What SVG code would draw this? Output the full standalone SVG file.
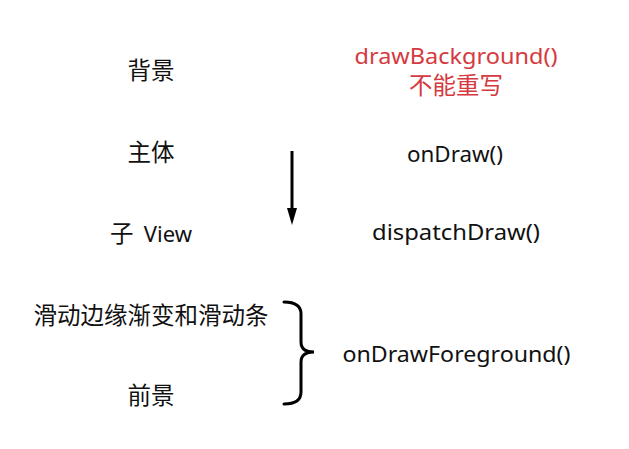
<svg xmlns="http://www.w3.org/2000/svg" width="629" height="449" viewBox="0 0 629 449">
<style>
.cjk{font-family:"Noto Sans CJK SC","Noto Sans",sans-serif;font-size:23.5px;fill:#111;text-anchor:middle}
.lat{font-family:"Noto Sans","Noto Sans CJK SC",sans-serif;font-size:22px;fill:#111;text-anchor:middle}
.red{fill:#d53a40}
.ln{stroke:#000;stroke-width:3;fill:none;stroke-linecap:round}
</style>
<rect width="629" height="449" fill="#fff"/>
<g id="bg-label"><text class="cjk" x="151" y="79">背景</text></g>
<g id="body-label"><text class="cjk" x="151" y="161">主体</text></g>
<g id="child-label"><text class="cjk" x="110" y="242" style="text-anchor:start">子</text><text class="lat" x="192" y="242" style="text-anchor:end">View</text></g>
<g id="scroll-label"><text class="cjk" x="151" y="324">滑动边缘渐变和滑动条</text></g>
<g id="fg-label"><text class="cjk" x="151" y="404">前景</text></g>
<g id="drawBackground"><text class="lat red" x="456" y="64" textLength="203" lengthAdjust="spacingAndGlyphs">drawBackground()</text><text class="cjk red" x="456" y="94">不能重写</text></g>
<g id="onDraw"><text class="lat" x="455" y="162" textLength="96" lengthAdjust="spacingAndGlyphs">onDraw()</text></g>
<g id="dispatchDraw"><text class="lat" x="456" y="240" textLength="168" lengthAdjust="spacingAndGlyphs">dispatchDraw()</text></g>
<g id="onDrawForeground"><text class="lat" x="456.5" y="362" textLength="228" lengthAdjust="spacingAndGlyphs">onDrawForeground()</text></g>
<g id="connectors">
<path class="ln" d="M292,151 L292,210" style="stroke-linecap:butt"/>
<path d="M287,208 L297,208 L292,225 Z" fill="#000"/>
<path class="ln" d="M284,302 Q301,302 301,314 L301,342 Q301,352 314,352 Q301,352 301,362 L301,392 Q301,404 284,404"/>
</g>
</svg>
